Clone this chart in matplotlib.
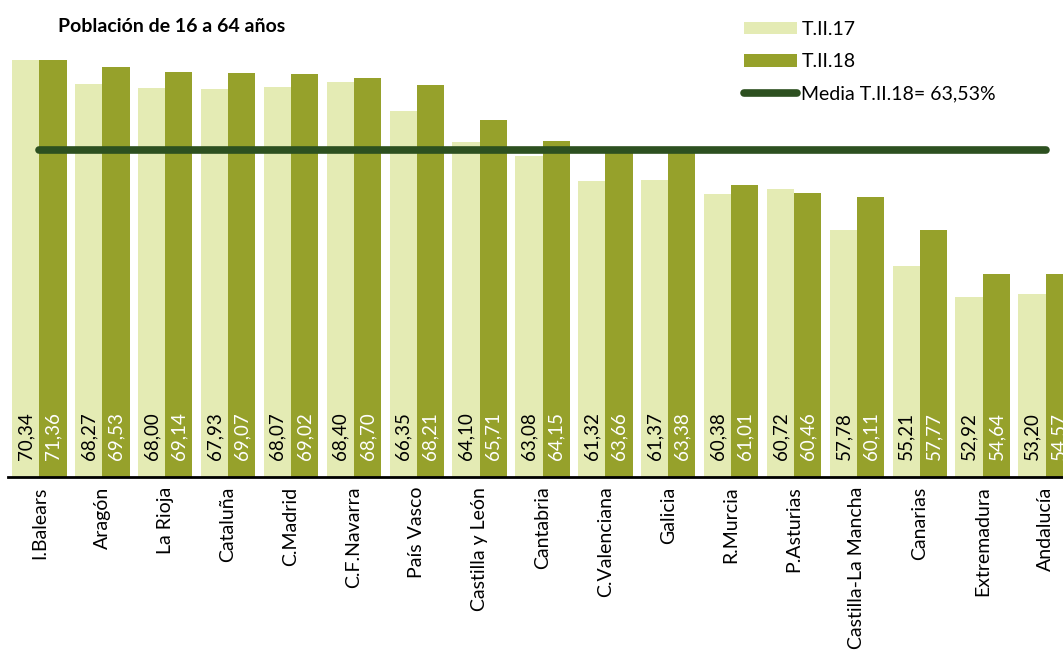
import matplotlib
matplotlib.use("Agg")
import matplotlib.pyplot as plt
import numpy as np
from matplotlib.patches import Patch
from matplotlib.lines import Line2D

plt.rcParams['font.family'] = ['Lato', 'DejaVu Sans']

categories = ["I.Balears", "Aragón", "La Rioja", "Cataluña", "C.Madrid", "C.F.Navarra",
              "País Vasco", "Castilla y León", "Cantabria", "C.Valenciana", "Galicia",
              "R.Murcia", "P.Asturias", "Castilla-La Mancha", "Canarias", "Extremadura",
              "Andalucía"]
t2_17 = [70.34, 68.27, 68.00, 67.93, 68.07, 68.40, 66.35, 64.10, 63.08, 61.32, 61.37,
         60.38, 60.72, 57.78, 55.21, 52.92, 53.20]
t2_18 = [71.36, 69.53, 69.14, 69.07, 69.02, 68.70, 68.21, 65.71, 64.15, 63.66, 63.38,
         61.01, 60.46, 60.11, 57.77, 54.64, 54.57]
media = 63.53
title = "Población de 16 a 64 años"
label_17 = "T.II.17"
label_18 = "T.II.18"
label_media = "Media T.II.18= 63,53%"

c_light = "#E4EBB4"
c_dark = "#96A12B"
c_line = "#2D5020"

W, H = 1063, 652
fig = plt.figure(figsize=(W / 100, H / 100), dpi=100)
ax = fig.add_axes([8 / W, 1 - 477 / H, 1069 / W, 417 / H])

x = np.arange(len(categories))
bw = 0.433
ax.bar(x - bw / 2, t2_17, width=bw, color=c_light, zorder=2)
ax.bar(x + bw / 2, t2_18, width=bw, color=c_dark, zorder=2)
ax.plot([x[0], x[-1]], [media, media], color=c_line, lw=5.5, solid_capstyle='round', zorder=3)

ax.set_ylim(40, 70)
ax.set_xlim(-0.5, len(categories) - 0.5)

def fmt(v):
    return f"{v:.2f}".replace('.', ',')

for xi, v in zip(x - bw / 2, t2_17):
    ax.annotate(fmt(v), (xi, 40), xytext=(0, 12), textcoords='offset points',
                rotation=90, ha='center', va='bottom', fontsize=13.5, color='black', zorder=4)
for xi, v in zip(x + bw / 2, t2_18):
    ax.annotate(fmt(v), (xi, 40), xytext=(0, 12), textcoords='offset points',
                rotation=90, ha='center', va='bottom', fontsize=13.5, color='white', zorder=4)

for s in ['top', 'right', 'left']:
    ax.spines[s].set_visible(False)
ax.spines['bottom'].set_linewidth(2)
ax.spines['bottom'].set_color('black')
ax.set_yticks([])
ax.set_xticks(x)
ax.set_xticklabels(categories, rotation=90, fontsize=14)
ax.tick_params(axis='x', length=0, pad=7)

fig.text(58 / W, 1 - 26 / H, title, fontsize=14, fontweight='bold', ha='left', va='center')

handles = [Patch(facecolor=c_light, label=label_17),
           Patch(facecolor=c_dark, label=label_18),
           Line2D([0], [0], color=c_line, lw=5.5, solid_capstyle='round', label=label_media)]
fig.legend(handles=handles, loc='upper left', bbox_to_anchor=(744 / W, 1 - 21 / H),
           frameon=False, fontsize=14, handlelength=2.7, handleheight=0.62,
           handletextpad=0.25, labelspacing=0.78, borderaxespad=0, borderpad=0)

fig.savefig("out.png", dpi=100)
